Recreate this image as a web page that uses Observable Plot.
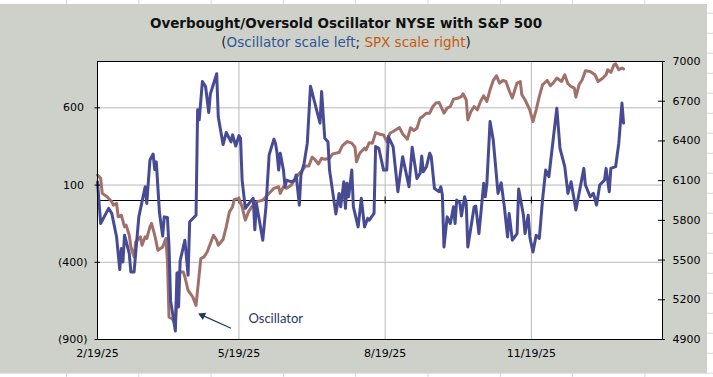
<!DOCTYPE html>
<html>
<head>
<meta charset="utf-8">
<script src="https://cdn.jsdelivr.net/npm/d3@7"></script>
<script src="https://cdn.jsdelivr.net/npm/@observablehq/plot@0.6"></script>
<style>
  html, body { margin: 0; padding: 0; background: #fff; }
  #sheet {
    position: relative; width: 713px; height: 377px; overflow: hidden; background: #fff;
    background-image: linear-gradient(to right, #d6d6d6 1px, transparent 1px),
                      linear-gradient(to bottom, #d6d6d6 1px, transparent 1px);
    background-size: 72.3px 100%, 100% 20px;
    background-position: 66px 0, 0 12.7px;
  }
  #chartbox { position: absolute; left: 0; top: 4px; width: 707px; height: 369px; background: #cdd1ca; }
  #title {
    position: absolute; left: 0; width: 692px; top: 15px; line-height: 16px; text-align: center;
    font-family: "DejaVu Sans", sans-serif; font-weight: bold; font-size: 13.5px; color: #111;
  }
  #subtitle {
    position: absolute; left: 0; width: 692px; top: 33.5px; line-height: 16px; text-align: center;
    font-family: "DejaVu Sans", sans-serif; font-size: 13.5px; color: #222;
  }
  #plot { position: absolute; left: 0; top: 0; }
</style>
</head>
<body>
<div id="sheet">
  <div id="chartbox"></div>
  <div id="plot"></div>
  <div id="title">Overbought/Oversold Oscillator NYSE with S&amp;P 500</div>
  <div id="subtitle">(<span style="color:#2f5597">Oscillator scale left</span>; <span style="color:#c55a11">SPX scale right</span>)</div>
</div>
<script>
// ---- Data ----
const oscDates = ["2025-02-19","2025-02-21","2025-02-26","2025-02-28","2025-03-03","2025-03-05","2025-03-06","2025-03-07","2025-03-08","2025-03-11","2025-03-12","2025-03-14","2025-03-17","2025-03-21","2025-03-22","2025-03-24","2025-03-26","2025-03-27","2025-03-28","2025-03-30","2025-04-01","2025-04-02","2025-04-04","2025-04-05","2025-04-06","2025-04-09","2025-04-10","2025-04-11","2025-04-12","2025-04-15","2025-04-17","2025-04-18","2025-04-22","2025-04-23","2025-04-24","2025-04-26","2025-04-28","2025-04-30","2025-05-01","2025-05-05","2025-05-06","2025-05-09","2025-05-11","2025-05-14","2025-05-15","2025-05-17","2025-05-19","2025-05-20","2025-05-21","2025-05-23","2025-05-26","2025-05-28","2025-05-29","2025-05-30","2025-06-03","2025-06-05","2025-06-07","2025-06-10","2025-06-11","2025-06-12","2025-06-13","2025-06-14","2025-06-16","2025-06-17","2025-06-18","2025-06-21","2025-06-23","2025-06-24","2025-06-26","2025-06-27","2025-06-29","2025-07-01","2025-07-03","2025-07-09","2025-07-10","2025-07-12","2025-07-14","2025-07-15","2025-07-19","2025-07-21","2025-07-22","2025-07-24","2025-07-25","2025-07-26","2025-07-27","2025-07-29","2025-07-30","2025-08-02","2025-08-04","2025-08-06","2025-08-08","2025-08-09","2025-08-12","2025-08-13","2025-08-15","2025-08-18","2025-08-20","2025-08-21","2025-08-24","2025-08-27","2025-08-30","2025-09-03","2025-09-05","2025-09-08","2025-09-10","2025-09-11","2025-09-12","2025-09-14","2025-09-16","2025-09-17","2025-09-19","2025-09-22","2025-09-23","2025-09-24","2025-09-25","2025-09-27","2025-09-29","2025-10-01","2025-10-02","2025-10-03","2025-10-05","2025-10-06","2025-10-08","2025-10-09","2025-10-10","2025-10-14","2025-10-15","2025-10-17","2025-10-20","2025-10-21","2025-10-22","2025-10-24","2025-10-26","2025-10-29","2025-10-31","2025-11-02","2025-11-04","2025-11-05","2025-11-07","2025-11-10","2025-11-11","2025-11-14","2025-11-15","2025-11-17","2025-11-18","2025-11-20","2025-11-22","2025-11-24","2025-11-26","2025-11-28","2025-11-30","2025-12-05","2025-12-07","2025-12-10","2025-12-12","2025-12-14","2025-12-17","2025-12-19","2025-12-22","2025-12-23","2025-12-26","2025-12-28","2025-12-30","2026-01-01","2026-01-04","2026-01-05","2026-01-07","2026-01-08","2026-01-11","2026-01-13","2026-01-15","2026-01-16"];
const oscValues = [120,-149,-51,-84,-236,-447,-311,-398,-225,-344,-463,-463,-106,89,-19,262,301,200,250,-80,-230,-106,-110,-300,-650,-845,-470,-690,-390,-257,-484,-138,-95,587,522,770,738,570,690,821,540,362,440,380,425,353,420,403,132,-51,-10,14,-190,-19,-257,-41,295,397,371,306,197,306,197,89,132,121,132,165,-30,165,241,371,740,501,706,403,381,197,-88,46,-41,121,-51,111,24,197,-41,-171,14,-171,-116,-127,-84,349,338,197,197,414,349,57,284,89,345,143,176,288,186,219,306,284,78,57,89,35,-301,-106,-149,-41,-149,3,-15,-101,24,-19,-301,-41,-36,-214,111,24,111,511,392,46,115,-41,-236,-84,-257,-214,75,-95,-214,-95,-236,-333,-225,-246,3,197,154,598,338,219,46,121,-62,46,208,100,24,46,-30,100,132,208,57,208,219,371,631,501];

const spxDates = ["2025-02-19","2025-02-21","2025-02-22","2025-02-25","2025-02-28","2025-03-01","2025-03-03","2025-03-04","2025-03-06","2025-03-08","2025-03-09","2025-03-11","2025-03-12","2025-03-14","2025-03-15","2025-03-18","2025-03-19","2025-03-21","2025-03-22","2025-03-24","2025-03-25","2025-03-27","2025-03-29","2025-04-01","2025-04-03","2025-04-04","2025-04-05","2025-04-07","2025-04-09","2025-04-10","2025-04-11","2025-04-14","2025-04-15","2025-04-17","2025-04-20","2025-04-22","2025-04-25","2025-04-27","2025-04-29","2025-05-03","2025-05-05","2025-05-06","2025-05-09","2025-05-11","2025-05-13","2025-05-15","2025-05-16","2025-05-19","2025-05-21","2025-05-23","2025-05-25","2025-05-27","2025-05-30","2025-06-03","2025-06-05","2025-06-07","2025-06-10","2025-06-13","2025-06-14","2025-06-16","2025-06-18","2025-06-21","2025-06-23","2025-06-25","2025-06-28","2025-06-30","2025-07-02","2025-07-04","2025-07-06","2025-07-08","2025-07-10","2025-07-12","2025-07-15","2025-07-17","2025-07-21","2025-07-23","2025-07-26","2025-07-29","2025-07-31","2025-08-01","2025-08-03","2025-08-06","2025-08-07","2025-08-09","2025-08-11","2025-08-13","2025-08-15","2025-08-18","2025-08-20","2025-08-22","2025-08-24","2025-08-28","2025-08-30","2025-09-02","2025-09-04","2025-09-06","2025-09-08","2025-09-10","2025-09-12","2025-09-14","2025-09-16","2025-09-18","2025-09-20","2025-09-22","2025-09-25","2025-09-27","2025-09-29","2025-10-01","2025-10-04","2025-10-06","2025-10-07","2025-10-09","2025-10-10","2025-10-12","2025-10-14","2025-10-16","2025-10-18","2025-10-20","2025-10-22","2025-10-24","2025-10-26","2025-10-28","2025-10-30","2025-11-01","2025-11-03","2025-11-05","2025-11-07","2025-11-10","2025-11-12","2025-11-13","2025-11-15","2025-11-18","2025-11-20","2025-11-22","2025-11-24","2025-11-26","2025-11-29","2025-12-01","2025-12-03","2025-12-05","2025-12-08","2025-12-10","2025-12-12","2025-12-14","2025-12-16","2025-12-17","2025-12-19","2025-12-21","2025-12-23","2025-12-26","2025-12-29","2025-12-31","2026-01-03","2026-01-05","2026-01-06","2026-01-08","2026-01-10","2026-01-11","2026-01-13","2026-01-15","2026-01-16"];
const spxValues = [6142,6117,6004,5978,5940,5915,5928,5827,5839,5751,5764,5688,5599,5524,5637,5675,5612,5675,5663,5751,5777,5688,5574,5599,5663,5498,5069,5057,5019,5271,5410,5410,5372,5271,5220,5158,5511,5524,5561,5688,5650,5612,5655,5751,5864,5902,5958,5966,5902,5802,5864,5902,5940,5953,5978,6004,6042,6054,6004,6054,6042,6067,6105,6142,6180,6211,6211,6277,6256,6226,6269,6261,6269,6302,6312,6362,6395,6383,6352,6243,6307,6345,6332,6387,6383,6463,6453,6445,6395,6458,6471,6501,6453,6413,6500,6478,6496,6572,6589,6610,6610,6660,6686,6690,6610,6648,6660,6716,6724,6736,6756,6711,6559,6622,6660,6635,6698,6741,6698,6786,6857,6892,6837,6857,6849,6781,6724,6837,6849,6749,6711,6635,6546,6635,6736,6824,6857,6817,6842,6875,6849,6900,6832,6811,6799,6731,6824,6862,6930,6925,6900,6849,6875,6900,6938,6918,6976,6983,6938,6951,6943];

// Axes / ticks
const xDomain = ["2025-02-19", "2026-02-09T12:00"];
const xTickDates = ["2025-02-19", "2025-05-19", "2025-08-19", "2025-11-19"];
const oscDomain = [-900, 900];
const oscTicks = [-900, -400, 100, 600];
const oscGrid = [-400, 100, 600];
const spxDomain = [4900, 7000];
const spxTicks = [4900, 5200, 5500, 5800, 6100, 6400, 6700, 7000];

// Annotation
const arrowTail = ["2025-05-14", -827];
const arrowHead = ["2025-04-26", -744];
const noteLabel = ["2025-05-25", -764, "Oscillator"];

// ---- Build ----
const parse = s => new Date(s.length > 10 ? s + "Z" : s);
const osc = oscDates.map((d, i) => ({date: parse(d), value: oscValues[i]}));
const spx = spxDates.map((d, i) => ({date: parse(d), value: spxValues[i]}));
const toOsc = v => oscDomain[0] + (v - spxDomain[0]) * (oscDomain[1] - oscDomain[0]) / (spxDomain[1] - spxDomain[0]);
const fromOsc = v => spxDomain[0] + (v - oscDomain[0]) * (spxDomain[1] - spxDomain[0]) / (oscDomain[1] - oscDomain[0]);
const fmtLeft = v => v < 0 ? `(${Math.abs(v)})` : `${v}\u2008`;
const fmtDate = d3.utcFormat("%-m/%-d/%y");

const W = 713, H = 377, ML = 97, MR = 51, MT = 61, MB = 38;
const innerW = W - ML - MR;
const oscColor = "#474b93", spxColor = "#a0716a", navy = "#1f3864", grid = "#b8b8b8";
const xTicks = xTickDates.map(parse);

const chart = Plot.plot({
  width: W, height: H,
  marginLeft: ML, marginRight: MR, marginTop: MT, marginBottom: MB,
  style: {background: "transparent", fontFamily: "'DejaVu Sans', sans-serif", fontSize: "11px", color: "#000", overflow: "visible"},
  x: {type: "utc", domain: xDomain.map(parse), label: null},
  y: {domain: oscDomain, label: null},
  marks: [
    Plot.frame({fill: "white", stroke: "none"}),
    Plot.ruleY(oscGrid, {stroke: grid, strokeWidth: 1}),
    Plot.ruleX(xTicks.slice(1), {stroke: grid, strokeWidth: 1}),
    Plot.ruleY([0], {stroke: "#000", strokeWidth: 1}),
    Plot.ruleX(xTicks.slice(1), {x: d => d, y1: () => 0, y2: () => 0, insetTop: -3.5, insetBottom: -3.5, stroke: "#000"}),
    Plot.line(spx, {x: "date", y: d => toOsc(d.value), stroke: spxColor, strokeWidth: 3, strokeLinejoin: "round", strokeLinecap: "round"}),
    Plot.line(osc, {x: "date", y: "value", stroke: oscColor, strokeWidth: 3, strokeLinejoin: "round", strokeLinecap: "round"}),
    Plot.frame({stroke: "#000", strokeWidth: 1}),
    // left axis
    Plot.axisY(oscTicks, {anchor: "left", tickSize: 0, tickPadding: 10, tickFormat: fmtLeft, label: null}),
    Plot.tickY(oscTicks, {y: d => d, stroke: "#000", insetLeft: -2.5, insetRight: innerW - 3}),
    // right axis (SPX mapped onto the left scale)
    Plot.axisY(spxTicks.map(toOsc), {anchor: "right", tickSize: 0, tickPadding: 10, tickFormat: v => String(Math.round(fromOsc(v))), label: null}),
    Plot.tickY(spxTicks.map(toOsc), {y: d => d, stroke: "#000", insetLeft: innerW - 4, insetRight: -3}),
    // bottom axis labels
    Plot.axisX(xTicks, {anchor: "bottom", tickSize: 0, tickPadding: 10, tickFormat: fmtDate, label: null}),
    // annotation
    Plot.link([0], {x1: () => parse(arrowTail[0]), y1: () => arrowTail[1], x2: () => parse(arrowHead[0]), y2: () => arrowHead[1], stroke: navy, strokeWidth: 1.3}),
    Plot.dot([0], {x: () => parse(arrowHead[0]), y: () => arrowHead[1], symbol: "triangle", r: 3, rotate: -66, fill: navy, stroke: "none"}),
    Plot.text([noteLabel], {x: d => parse(d[0]), y: d => d[1], text: d => d[2], textAnchor: "start", fill: navy, fontSize: 13, fontFamily: "Lato, sans-serif"})
  ]
});
document.getElementById("plot").appendChild(chart);
</script>
</body>
</html>
